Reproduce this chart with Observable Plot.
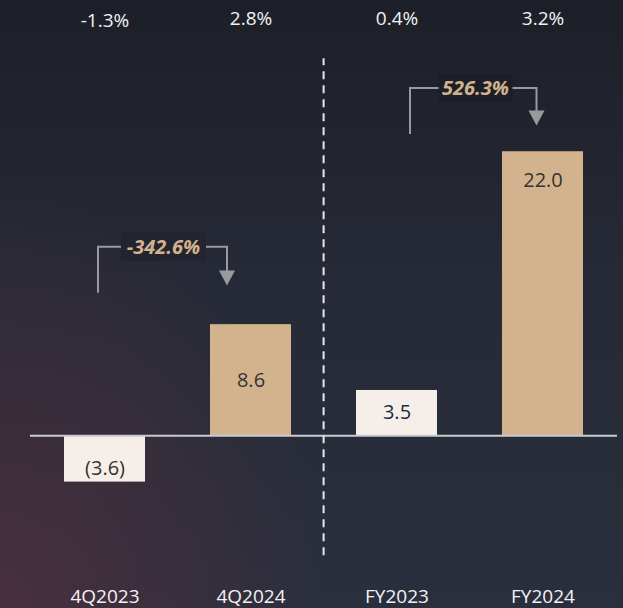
<!DOCTYPE html>
<html>
<head>
<meta charset="utf-8">
<script src="https://cdn.jsdelivr.net/npm/d3@7"></script>
<script src="https://cdn.jsdelivr.net/npm/@observablehq/plot@0.6"></script>
<style>
  html, body { margin: 0; padding: 0; }
  body {
    width: 623px; height: 608px; overflow: hidden;
    background:
      radial-gradient(ellipse 330px 420px at 0% 100%, rgba(105,48,62,0.5), rgba(105,48,62,0) 100%),
      linear-gradient(180deg, #1d1f28 0%, #262a36 45%, #2a2f3d 100%);
  }
  #chart svg { display: block; background: transparent; }
</style>
</head>
<body>
<div id="chart"></div>
<script>
// ---- data ----
const categories = ["4Q2023", "4Q2024", "FY2023", "FY2024"];
const values = [-3.6, 8.6, 3.5, 22.0];
const valueLabels = ["(3.6)", "8.6", "3.5", "22.0"];
const marginPct = ["-1.3%", "2.8%", "0.4%", "3.2%"];
const changeFrom = ["4Q2023", "FY2023"];
const changeTo = ["4Q2024", "FY2024"];
const changeLabels = ["-342.6%", "526.3%"];

const rows = categories.map((c, i) => ({
  cat: c, value: values[i], label: valueLabels[i], pct: marginPct[i],
  kind: i % 2 === 0 ? "prev" : "curr"
}));
const changes = changeLabels.map((l, i) => ({from: changeFrom[i], to: changeTo[i], label: l}));

const FONT = "'Open Sans', 'Noto Sans', sans-serif";
const TAN = "#d3b38d", CREAM = "#f6efe9";

// arrow annotation mark drawn through the plot's scales
function arrows(index, scales) {
  const x = scales.x, y = scales.y;
  const bw = x.bandwidth();
  const cx = c => x(c) + bw / 2;
  const g = d3.create("svg:g");
  const valOf = c => values[categories.indexOf(c)];
  changes.forEach((d) => {
    const vFrom = valOf(d.from), vTo = valOf(d.to);
    const top = Math.max(vFrom, vTo, 0);
    const isLarge = top > 15;
    const x0 = cx(d.from) + (isLarge ? 13.5 : -6.5);
    const x1 = cx(d.to) + (isLarge ? -6 : -23.5);
    const yTop = y(top + (isLarge ? 4.9 : 6.0));
    const yStart = yTop + 46;
    const yTip = y(vTo + (isLarge ? 2.0 : 3.0));
    const labelX = isLarge ? cx(d.from) + 79 : cx(d.from) + 59;
    g.append("path")
      .attr("d", `M${x0},${yStart}V${yTop}H${x1}V${yTip - 14}`)
      .attr("fill", "none").attr("stroke", "#9a9a9e").attr("stroke-width", 2);
    g.append("path")
      .attr("d", `M${x1 - 8},${yTip - 15}L${x1 + 8},${yTip - 15}L${x1},${yTip}Z`)
      .attr("fill", "#9a9a9e");
    const w = d.label.length * 11 + 8;
    g.append("rect")
      .attr("x", labelX - w / 2).attr("y", yTop - 14)
      .attr("width", w).attr("height", 28)
      .attr("fill", isLarge ? "#1c1f27" : "#22252f");
    g.append("text")
      .attr("x", labelX).attr("y", yTop).attr("dy", "0.36em")
      .attr("text-anchor", "middle")
      .attr("font-family", FONT).attr("font-size", 20)
      .attr("font-weight", "bold").attr("font-style", "italic")
      .attr("fill", TAN).text(d.label);
  });
  return g.node();
}

const step = 146.8;
const chart = Plot.plot({
  width: 623,
  height: 608,
  marginLeft: 30,
  marginRight: 6,
  marginTop: 48,
  marginBottom: 18,
  style: {background: "transparent", fontFamily: FONT},
  x: {domain: categories, padding: 0.448, paddingOuter: 0.224, label: null},
  y: {domain: [-12, 30], axis: null},
  color: {domain: ["prev", "curr"], range: [CREAM, TAN]},
  marks: [
    Plot.barY(rows, {x: "cat", y: "value", fill: "kind"}),
    Plot.ruleY([0], {stroke: "#c9cbd2", strokeWidth: 2}),
    Plot.ruleX(["FY2023"], {x: d => d, dx: -step / 2, y1: -9.3, y2: 29.2,
      stroke: "#e8e8ec", strokeWidth: 2, strokeDasharray: "8,6"}),
    Plot.text(rows, {
      x: "cat",
      y: d => d.value < 0 ? d.value / 2 - 0.75 : (d.value > 12 ? d.value - 2.2 : d.value / 2),
      text: "label", fontSize: 20,
      fill: d => d.kind === "prev" && d.value > 0 ? "#1f2a44" : "#333333"
    }),
    Plot.text(rows, {
      x: "cat", y: d => d.value < 0 ? 32.1 : 32.3, text: "pct",
      fontSize: 19, fill: "#f2f2f4"
    }),
    Plot.axisX({tickSize: 0, tickPadding: -1, fontSize: 19, color: "#f2f2f4", label: null}),
    arrows
  ]
});
document.getElementById("chart").appendChild(chart);
</script>
</body>
</html>
